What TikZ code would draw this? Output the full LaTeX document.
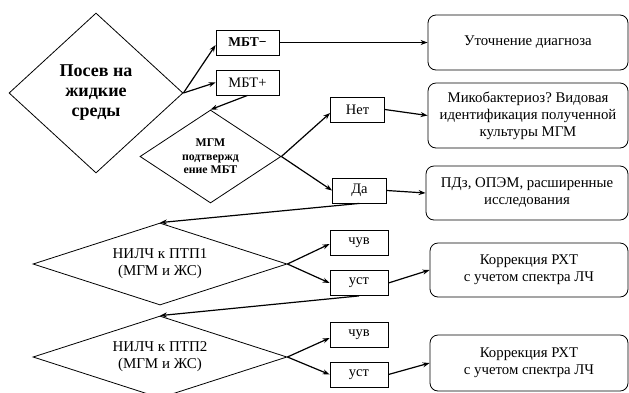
\documentclass[tikz,border=0pt]{standalone}
\usepackage{fontspec}
\setmainfont{Liberation Serif}
\frenchspacing
\usetikzlibrary{shapes.geometric,arrows.meta}
\begin{document}
\begin{tikzpicture}[x=1pt,y=-1pt,
  dia/.style={draw,diamond,inner sep=0pt,align=center,line width=0.8pt},
  diatxt/.style={font=\fontsize{15}{17}\selectfont},
  sbox/.style={draw,rectangle,inner sep=0pt,minimum width=54pt,minimum height=25pt,line width=0.8pt,font=\fontsize{14.5}{16}\selectfont},
  rbox/.style={draw,rectangle,rounded corners=8pt,inner sep=0pt,minimum width=200pt,align=center,line width=0.8pt,font=\fontsize{14.8}{17}\selectfont},
  arr/.style={-{Stealth[length=7pt,width=5pt]},line width=1.2pt},
]
\useasboundingbox (0,0) rectangle (629,392);
% left column
\node[dia,minimum width=174pt,minimum height=160pt,aspect=1.1,font=\bfseries\fontsize{18}{20}\selectfont] (d1) at (96,93) {Посев на\\жидкие\\среды};
\node[sbox,minimum width=63pt,font=\bfseries\fontsize{13.5}{15}\selectfont] (mbtm) at (247.5,42.5) {МБТ−};
\node[sbox,minimum width=63pt] (mbtp) at (247.5,82.5) {МБТ+};
\node[dia,minimum width=141pt,minimum height=93pt,aspect=1.5,font=\bfseries\fontsize{11.8}{13.5}\selectfont] (d2) at (210.5,156.5) {МГМ\\подтвержд\\ение МБТ};
\node[dia,diatxt,minimum width=254pt,minimum height=82pt,aspect=3.1] (d3) at (160,264) {НИЛЧ к ПТП1\\(МГМ и ЖС)};
\node[dia,diatxt,minimum width=254pt,minimum height=82pt,aspect=3.1] (d4) at (160,357) {НИЛЧ к ПТП2\\(МГМ и ЖС)};
% small boxes
\node[sbox] (net) at (357.5,109.5) {Нет};
\node[sbox] (da) at (359.5,190.5) {Да};
\node[sbox,minimum width=58pt] (chuv1) at (359,242.5) {чув};
\node[sbox,minimum width=58pt] (ust1) at (359,283) {уст};
\node[sbox,minimum width=58pt] (chuv2) at (359,334.5) {чув};
\node[sbox,minimum width=58pt] (ust2) at (359,374.5) {уст};
% right boxes
\node[rbox,minimum height=55pt] (utoch) at (528,42.5) {Уточнение диагноза};
\node[rbox,minimum height=65pt] (mik) at (528,115.5) {Микобактериоз? Видовая\\идентификация полученной\\культуры МГМ};
\node[rbox,minimum width=202pt,minimum height=54pt] (pdz) at (527,193) {ПДз, ОПЭМ, расширенные\\исследования};
\node[rbox,minimum width=198pt,minimum height=54pt] (kor1) at (529,270) {Коррекция РХТ\\с учетом спектра ЛЧ};
\node[rbox,minimum width=198pt,minimum height=56pt] (kor2) at (529,363) {Коррекция РХТ\\с учетом спектра ЛЧ};
% connectors
\draw[arr] (d1.east) -- ([yshift=-2.5pt]mbtm.west);
\draw[arr] (d1.east) -- (mbtp.west);
\draw[arr] (mbtm.east) -- (utoch.west);
\draw[arr] (mbtp.south) -- (d2.north);
\draw[arr] (d2.east) -- ([yshift=-3.5pt]net.west);
\draw[arr] (d2.east) -- (da.west);
\draw[arr] (net.east) -- (mik.west);
\draw[arr] (da.east) -- (pdz.west);
\draw[arr] (da.south) -- (d3.north);
\draw[arr] (d3.east) -- ([yshift=-1.5pt]chuv1.west);
\draw[arr] (d3.east) -- (ust1.west);
\draw[arr] (ust1.east) -- (kor1.west);
\draw[arr] (ust1.south) -- (d4.north);
\draw[arr] (d4.east) -- ([yshift=-3.5pt]chuv2.west);
\draw[arr] (d4.east) -- (ust2.west);
\draw[arr] (ust2.east) -- (kor2.west);
\end{tikzpicture}
\end{document}
